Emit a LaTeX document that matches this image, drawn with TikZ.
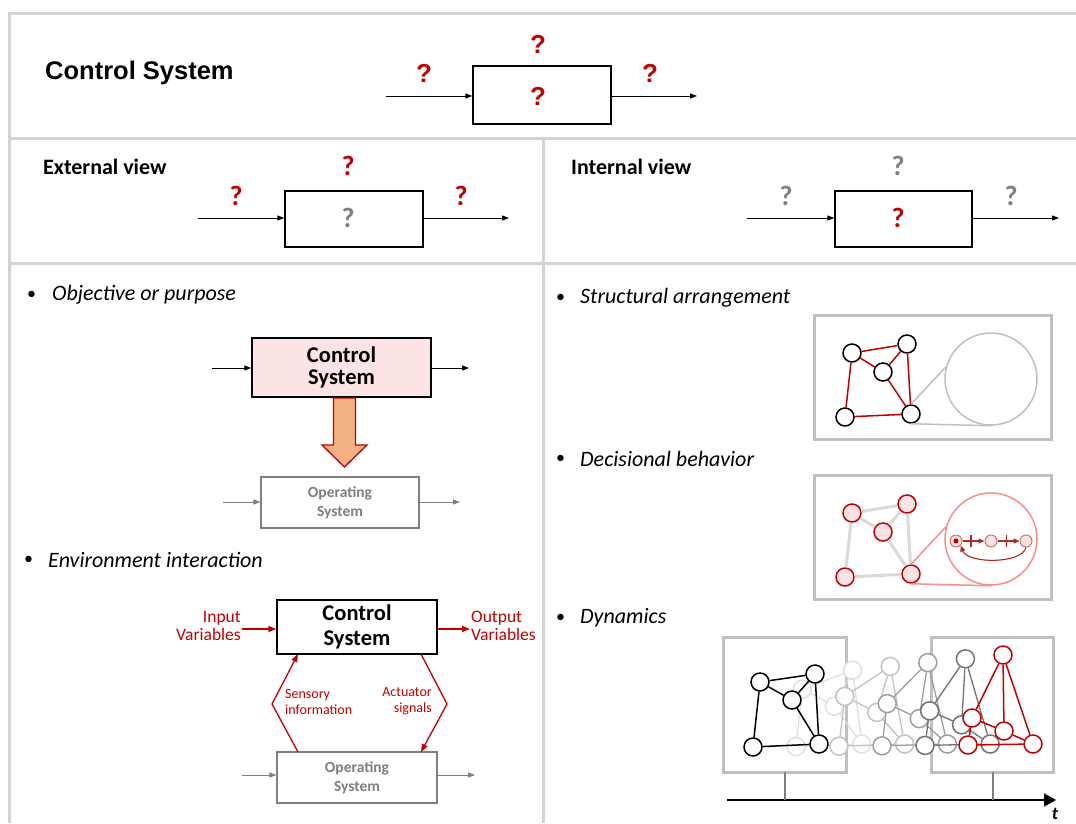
\documentclass[tikz,border=0pt]{standalone}
\usepackage{fontspec}
\setmainfont{Carlito}
\newfontfamily\arialfont{Liberation Sans}
\usetikzlibrary{arrows.meta,calc}
\definecolor{qred}{HTML}{C00000}
\definecolor{qgray}{HTML}{7F7F7F}
\definecolor{gridc}{HTML}{D3D3D3}
\definecolor{boxgray}{HTML}{C0C0C0}
\definecolor{pinkf}{HTML}{FDE4E4}
\definecolor{orangef}{HTML}{F4B183}
\definecolor{salmon}{HTML}{FF8C8C}
\definecolor{edgegray}{HTML}{D9D9D9}
\definecolor{smred}{HTML}{B02828}
\newcommand\fsz[2]{\fontsize{#1}{#2}\selectfont}
\newcommand\netdraw[3]{%
  \foreach \n in {A,B,C,D,E}{\node[#3] (#1\n) at (#1p\n) {};}
  \draw[#2] (#1A)--(#1B) (#1A)--(#1C) (#1C)--(#1B) (#1A)--(#1D) (#1D)--(#1E) (#1C)--(#1E) (#1B)--(#1E);
}
\begin{document}
\begin{tikzpicture}[x=1pt,y=-1pt,
  gridl/.style={draw=gridc,line width=3pt},
  bbox/.style={draw=black,line width=1.3pt,inner sep=0,minimum width=#1},
  gbox/.style={draw=boxgray,line width=3pt},
  arr/.style={-{Triangle[length=7pt,width=5pt]},line width=1pt},
  garr/.style={-{Triangle[length=7pt,width=5pt]},line width=1pt,draw=qgray,color=qgray},
  rarr/.style={-{Triangle[length=8pt,width=6pt]},line width=1.3pt,draw=qred,color=qred},
  qa/.style={font=\arialfont\bfseries\fsz{26}{28},text=qred,inner sep=0},
  qc/.style={font=\bfseries\fsz{28}{30},inner sep=0},
  head/.style={font=\bfseries\fsz{22}{24},anchor=west,inner sep=0},
  bul/.style={font=\fsz{18}{22},anchor=west,inner sep=0},
  bit/.style={font=\itshape\fsz{22}{24},anchor=west,inner sep=0},
  nd/.style={circle,draw=black,fill=white,line width=1.5pt,minimum size=18pt,inner sep=0},
  smn/.style={circle,draw=salmon!80!black,fill=pinkf,line width=1pt,minimum size=12pt,inner sep=0},
  smarr/.style={-{Triangle[length=6pt,width=5pt]},line width=1.1pt,draw=smred,color=smred}
]
\useasboundingbox (0,0) rectangle (1076,823);
\fill[white] (0,0) rectangle (1076,823);
% grid
\draw[gridl] (9,13) -- (1076,13);
\draw[gridl] (9,138) -- (1076,138);
\draw[gridl] (9,263) -- (1076,263);
\draw[gridl] (9,11.5) -- (9,823);
\draw[gridl] (543,138) -- (543,823);

% ---- top row
\node[font=\arialfont\bfseries\fsz{25.5}{28},anchor=west,inner sep=0] (title) at (45,73) {Control System};
\node[bbox=138pt,minimum height=58pt] (TB) at (542,95) {};
\coordinate (TBin) at (386,96);
\coordinate (TBout) at (697,96);
\draw[arr] (TBin) -- (TBin -| TB.west);
\draw[arr] (TBout -| TB.east) -- (TBout);
\node[qa] (tq1) at (538,44) {?};
\node[qa] (tq2) at (424,73) {?};
\node[qa] (tq3) at (650,73) {?};
\node[qa] (tq4) at (538,96) {?};

% ---- external view
\node[head] (ext) at (43,167) {External view};
\node[bbox=138pt,minimum height=56pt] (EB) at (354,219) {};
\coordinate (EBin) at (198,218);
\coordinate (EBout) at (509,218);
\draw[arr] (EBin) -- (EBin -| EB.west);
\draw[arr] (EBout -| EB.east) -- (EBout);
\node[qc,text=qred] (eq1) at (348,166) {?};
\node[qc,text=qred] (eq2) at (236,196) {?};
\node[qc,text=qred] (eq3) at (461,196) {?};
\node[qc,text=qgray] (eq4) at (348,218) {?};

% ---- internal view
\node[head] (int) at (571,167) {Internal view};
\node[bbox=137pt,minimum height=56pt] (IB) at (903.5,219) {};
\coordinate (IBin) at (747,218);
\coordinate (IBout) at (1059,218);
\draw[arr] (IBin) -- (IBin -| IB.west);
\draw[arr] (IBout -| IB.east) -- (IBout);
\node[qc,text=qgray] (iq1) at (898,166) {?};
\node[qc,text=qgray] (iq2) at (786,196) {?};
\node[qc,text=qgray] (iq3) at (1011,196) {?};
\node[qc,text=qred] (iq4) at (898,218) {?};

% ---- objective or purpose
\node[bul] (b1) at (27,295) {•};
\node[bit] (t1) at (52,295) {Objective or purpose};
\node[bbox=179pt,minimum height=59pt,fill=pinkf,align=center,font=\bfseries\fsz{22.5}{22}] (PB) at (341.5,367.5) {Control\\System};
\coordinate (PBin) at (212,368);
\coordinate (PBout) at (469,368);
\draw[arr] (PBin) -- (PBin -| PB.west);
\draw[arr] (PBout -| PB.east) -- (PBout);
\draw[fill=orangef,draw=qred,line width=1.3pt,line join=miter]
  (333.5,398) -- (355.5,398) -- (355.5,445) -- (367,445) -- (344.5,467) -- (322,445) -- (333.5,445) -- cycle;
\node[draw=qgray,line width=1.1pt,minimum width=158pt,minimum height=51pt,inner sep=0,align=center,
  text=qgray,font=\bfseries\fsz{15.5}{19}] (OB1) at (340,502.5) {Operating\\System};
\coordinate (OB1in) at (223,502);
\coordinate (OB1out) at (460,502);
\draw[garr] (OB1in) -- (OB1in -| OB1.west);
\draw[garr] (OB1out -| OB1.east) -- (OB1out);

% ---- environment interaction
\node[bul] (b2) at (24,560) {•};
\node[bit] (t2) at (48,560) {Environment interaction};
\node[bbox=160pt,minimum height=54pt,align=center,font=\bfseries\fsz{22.5}{25}] (CB) at (357,627) {Control\\System};
\node[draw=qgray,line width=1.1pt,minimum width=160pt,minimum height=51pt,inner sep=0,align=center,
  text=qgray,font=\bfseries\fsz{15.5}{19}] (OB2) at (357,777.5) {Operating\\System};
\node[anchor=east,align=right,text=qred,font=\fsz{17.5}{18},inner sep=0] (inv) at (241,626) {Input\\Variables};
\node[anchor=west,align=left,text=qred,font=\fsz{17.5}{18},inner sep=0] (outv) at (471,626) {Output\\Variables};
\coordinate (CBin) at (242,629);
\coordinate (CBout) at (470,629);
\draw[rarr] (CBin) -- (CBin -| CB.west);
\draw[rarr] (CBout -| CB.east) -- (CBout);
\coordinate (OB2in) at (242,775);
\coordinate (OB2out) at (475,775);
\draw[garr] (OB2in) -- (OB2in -| OB2.west);
\draw[garr] (OB2out -| OB2.east) -- (OB2out);
\coordinate (sb) at (298,752);
\coordinate (sm) at (272,704);
\coordinate (st) at (298,654);
\draw[rarr,line join=miter] (sb) -- (sm) -- (st);
\coordinate (at) at (421,654);
\coordinate (am) at (447,704);
\coordinate (ab) at (421,752);
\draw[rarr,line join=miter] (at) -- (am) -- (ab);
\node[anchor=west,align=left,text=qred,font=\fsz{14}{16},inner sep=0] (sens) at (285,702) {Sensory\\information};
\node[anchor=east,align=right,text=qred,font=\fsz{14}{16},inner sep=0] (act) at (432,701) {Actuator\\signals};

% ---- structural arrangement
\node[bul] (b3) at (556,298) {•};
\node[bit] (t3) at (580,298) {Structural arrangement};
\draw[gbox] (814,315) rectangle (1051,439);
\coordinate (spA) at (852,353);
\coordinate (spB) at (907,344);
\coordinate (spC) at (883,372);
\coordinate (spD) at (845,417);
\coordinate (spE) at (911,414);
\netdraw{s}{draw=qred,line width=1.5pt}{nd}
\node[circle,draw=boxgray,line width=1.5pt,minimum size=92pt,inner sep=0] (scirc) at (991,379) {};
\draw[boxgray,line width=1.5pt] (sE.north) -- (scirc.165);
\draw[boxgray,line width=1.5pt] (sE.south) -- (scirc.south);

% ---- decisional behavior
\node[bul] (b4) at (556,459) {•};
\node[bit] (t4) at (580,459) {Decisional behavior};
\draw[gbox] (814,475) rectangle (1051,599);
\coordinate (dpA) at (852,513);
\coordinate (dpB) at (907,504);
\coordinate (dpC) at (883,532);
\coordinate (dpD) at (845,577);
\coordinate (dpE) at (911,574);
\netdraw{d}{draw=edgegray,line width=3pt}{nd,draw=qred,fill=pinkf}
\node[circle,draw=salmon,fill=white,line width=1.5pt,minimum size=92pt,inner sep=0] (dcirc) at (991,539) {};
\draw[salmon,line width=1.5pt] (dE.north) -- (dcirc.165);
\draw[salmon,line width=1.5pt] (dE.south) -- (dcirc.south);
\node[smn] (m1) at (956,541) {};
\node[circle,fill=qred,inner sep=0,minimum size=5pt] (m1d) at (956,541) {};
\node[smn] (m2) at (991,541) {};
\node[smn] (m3) at (1026,541) {};
\draw[smarr] (m1) -- (m2);
\draw[smarr] (m2) -- (m3);
\draw[smred,line width=1.3pt] ($(m1)!0.43!(m2)$) ++(0,-6) -- ++(0,12);
\draw[smred,line width=1.3pt] ($(m2)!0.45!(m3)$) ++(0,-6) -- ++(0,12);
\draw[smarr] (m3.south) .. controls (1022,564) and (968,564) .. (m1.south east);

% ---- dynamics
\node[bul] (b5) at (556,618) {•};
\node[bit] (t5) at (580,618) {Dynamics};
\draw[gbox] (723,637) rectangle (846,772);
\draw[gbox] (931,637) rectangle (1053,772);
\coordinate (kpA) at (760,682);
\coordinate (kpB) at (815,674);
\coordinate (kpC) at (792,700);
\coordinate (kpD) at (753,747);
\coordinate (kpE) at (819,744);
\coordinate (rpA) at (972,718);
\coordinate (rpB) at (1003,655);
\coordinate (rpC) at (1004,731);
\coordinate (rpD) at (968,745);
\coordinate (rpE) at (1033,744);
\foreach \k/\c in {1/12,2/24,3/38,4/55}{
  \pgfmathsetmacro\tt{\k/5}
  \foreach \n in {A,B,C,D,E}{\coordinate (g\k p\n) at ($(kp\n)!\tt!(rp\n)$);}
  \netdraw{g\k}{draw=black!\c,line width=1.3pt}{nd,draw=black!\c}
}
\netdraw{k}{draw=black,line width=1.5pt}{nd}
\netdraw{r}{draw=qred,line width=1.5pt}{nd,draw=qred}
\coordinate (ax0) at (727,800);
\coordinate (ax1) at (1056,800);
\draw[line width=1.5pt,-{Triangle[length=12pt,width=13pt]}] (ax0) -- (ax1);
\draw[qgray,line width=1.3pt] (785,772) -- (785,800);
\draw[qgray,line width=1.3pt] (993,772) -- (993,800);
\node[font=\bfseries\itshape\fsz{18}{20},inner sep=0] (tl) at (1055,814) {t};
\end{tikzpicture}
\end{document}
